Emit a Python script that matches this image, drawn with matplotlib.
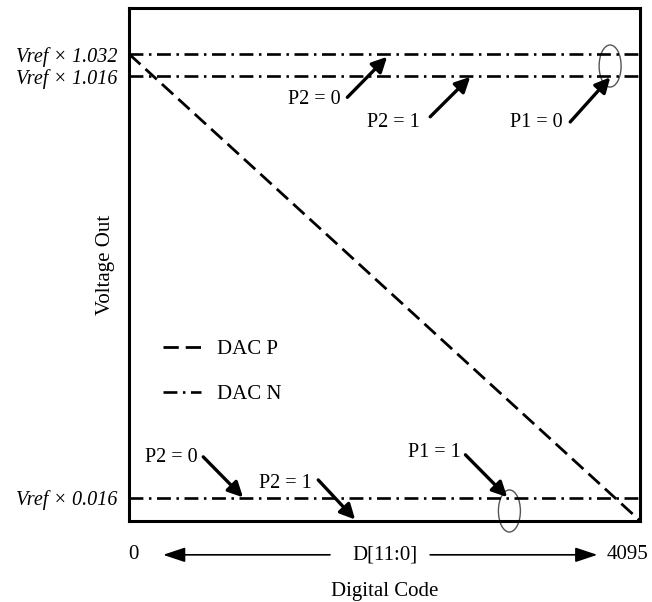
import numpy as np
import matplotlib
matplotlib.use("Agg")
import matplotlib.pyplot as plt
from matplotlib.patches import Ellipse

plt.rcParams["font.family"] = ["Liberation Serif", "DejaVu Serif"]
plt.rcParams["lines.scale_dashes"] = False

# data
code_range = [0, 4095]
dac_p_volts = [1.032, 0.0]
dac_n_levels = [1.032, 1.016, 0.016]
level_labels = ["Vref × 1.032", "Vref × 1.016", "Vref × 0.016"]

# callouts: label, text position (axes frac), arrow tail (axes frac), arrow head (data)
callouts = [
    ("P2 = 0", (0.413, 0.821), (0.427, 0.826), (2067, 1.030)),
    ("P2 = 1", (0.569, 0.776), (0.589, 0.788), (2733, 1.014)),
    ("P1 = 0", (0.849, 0.776), (0.863, 0.778), (3855, 1.013)),
    ("P2 = 0", (0.135, 0.123), (0.145, 0.125), (913, 0.0175)),
    ("P2 = 1", (0.358, 0.074), (0.370, 0.080), (1811, 0.001)),
    ("P1 = 1", (0.648, 0.133), (0.658, 0.129), (3029, 0.018)),
]
ellipse_centers = [(0.941, 0.887), (0.744, 0.0195)]

# the chart is schematic: piecewise scale so the small offsets stay readable
breaks_v = [0, 0.016, 1.016, 1.032, 1.066]
breaks_p = [0, 23, 445, 467, 513]


def fwd(v):
    return np.interp(v, breaks_v, breaks_p)


def inv(p):
    return np.interp(p, breaks_p, breaks_v)


FS = 15

fig = plt.figure(figsize=(6.52, 6.02), dpi=100)
ax = fig.add_axes([0.198, 0.1346, 0.784, 0.852])
ax.set_yscale("function", functions=(fwd, inv))
ax.set_xlim(code_range)
ax.set_ylim(0, 1.066)

ax.plot(code_range, dac_p_volts, color="k", lw=2.0, dashes=(11, 5), label="DAC P")
for i, lvl in enumerate(dac_n_levels):
    ax.plot(code_range, [lvl, lvl], color="k", lw=1.9, dashes=(10, 4, 1.8, 4),
            label="DAC N" if i == 0 else None)

ax.set_yticks(dac_n_levels)
ax.set_yticklabels(level_labels, fontsize=FS - 0.5, style="italic")
ax.tick_params(axis="y", length=0, pad=8)
ax.set_xticks([])
for s in ax.spines.values():
    s.set_linewidth(2.2)

ax.set_ylabel("Voltage Out", fontsize=FS)
ax.yaxis.set_label_coords(-0.027, 0.5)
ax.set_xlabel("Digital Code", fontsize=FS, labelpad=44)

for label, tpos, tail, head in callouts:
    ax.text(*tpos, label, transform=ax.transAxes, ha="right", va="center", fontsize=FS - 0.5)
    ax.annotate("", xy=head, xycoords="data", xytext=tail, textcoords="axes fraction",
                arrowprops=dict(arrowstyle="-|>,head_length=0.6,head_width=0.3",
                                color="k", lw=2.4, mutation_scale=15,
                                shrinkA=0, shrinkB=0))

for c in ellipse_centers:
    ax.add_patch(Ellipse(c, 0.043, 0.082, transform=ax.transAxes, fill=False,
                         ec="#555555", lw=1, clip_on=False))

# code axis under the plot
ax.text(0.008, -0.066, "0", transform=ax.transAxes, ha="center", va="center", fontsize=FS)
ax.text(0.501, -0.066, "D[11:0]", transform=ax.transAxes, ha="center", va="center", fontsize=FS)
ax.text(0.975, -0.066, "4095", transform=ax.transAxes, ha="center", va="center", fontsize=FS)
arrow_kw = dict(arrowstyle="-|>,head_length=0.9,head_width=0.3", color="k", lw=1.2,
                mutation_scale=15, shrinkA=0, shrinkB=0)
ax.annotate("", xy=(0.0665, -0.066), xytext=(0.393, -0.066), xycoords="axes fraction",
            arrowprops=arrow_kw, annotation_clip=False)
ax.annotate("", xy=(0.916, -0.066), xytext=(0.589, -0.066), xycoords="axes fraction",
            arrowprops=arrow_kw, annotation_clip=False)

ax.legend(loc="upper left", bbox_to_anchor=(0.03, 0.39), frameon=False, fontsize=FS,
          handlelength=1.8, handletextpad=0.8, labelspacing=1.2)

fig.savefig("out.png", dpi=100)
